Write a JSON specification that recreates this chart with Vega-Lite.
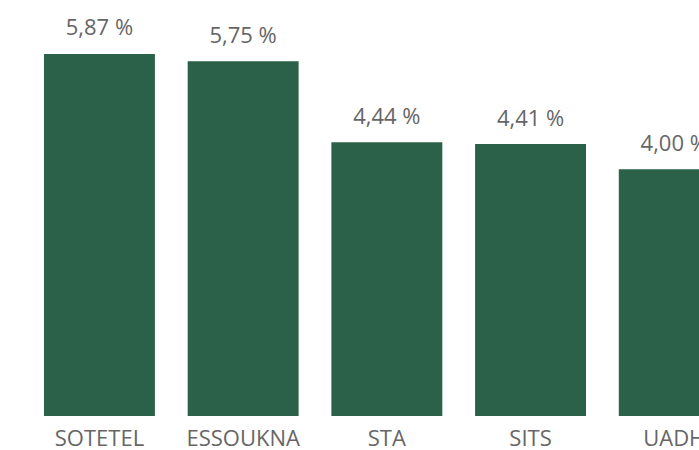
{
  "$schema": "https://vega.github.io/schema/vega-lite/v6.json",
  "width": 699,
  "height": 416,
  "autosize": {"type": "none"},
  "padding": {"left": 0, "top": 0, "right": 0, "bottom": 34},
  "background": "white",
  "data": {"values": [
    {"name": "SOTETEL", "v": 5.87},
    {"name": "ESSOUKNA", "v": 5.75},
    {"name": "STA", "v": 4.44},
    {"name": "SITS", "v": 4.41},
    {"name": "UADH", "v": 4.00}
  ]},
  "transform": [{"calculate": "replace(format(datum.v, '.2f'), '.', ',') + ' %'", "as": "label"}],
  "encoding": {
    "x": {"field": "name", "type": "nominal", "sort": null,
      "scale": {"range": [0, 773.7], "paddingInner": 0.228, "paddingOuter": 0.306},
      "axis": {"title": null, "domain": false, "ticks": false, "labelAngle": 0, "labelFont": "Open Sans", "labelFontSize": 22, "labelColor": "#666666", "labelPadding": 12, "labelBaseline": "top"}},
    "y": {"field": "v", "type": "quantitative", "scale": {"domain": [0, 6.745], "nice": false, "zero": true}, "axis": null}
  },
  "layer": [
    {"mark": {"type": "bar", "color": "#2B6149"}},
    {"mark": {"type": "text", "font": "Open Sans", "fontSize": 22, "color": "#666666", "baseline": "alphabetic", "dy": -18.5}, "encoding": {"text": {"field": "label"}}}
  ],
  "config": {"view": {"stroke": null}}
}
